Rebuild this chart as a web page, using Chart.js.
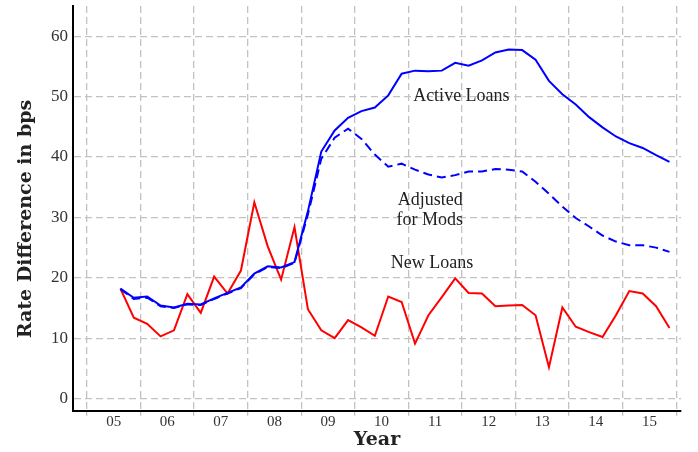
<!DOCTYPE html>
<html lang="en">
<head>
  <meta charset="UTF-8">
  <title>Rate Difference</title>
  <script src="https://cdn.jsdelivr.net/npm/chart.js"></script>
  <style>
    html, body { margin: 0; padding: 0; background: #fff; }
    #wrap { width: 698px; height: 452px; }
  </style>
</head>
<body>
  <div id="wrap"><canvas id="rateChart" width="698" height="452"></canvas></div>

  <script>
    // quarters 2005Q1 .. 2015Q2
    const quarters = [];
    for (let y = 2005; y <= 2015; y++) {
      for (let q = 1; q <= 4; q++) {
        if (y === 2015 && q > 2) break;
        quarters.push(y + "Q" + q);
      }
    }

    const activeLoans = [18.2, 16.7, 16.9, 15.4, 15.1, 15.7, 15.6, 16.6, 17.5, 18.4,
      20.7, 21.9, 21.7, 22.6, 31.0, 40.9, 44.4, 46.5, 47.6, 48.2,
      50.2, 53.8, 54.3, 54.2, 54.3, 55.6, 55.1, 56.0, 57.3, 57.8,
      57.7, 56.1, 52.6, 50.4, 48.7, 46.6, 44.9, 43.4, 42.3, 41.5,
      40.3, 39.2];

    const adjustedForMods = [18.1, 16.5, 16.7, 15.3, 15.0, 15.6, 15.5, 16.5, 17.4, 18.3,
      20.6, 21.8, 21.6, 22.5, 30.5, 39.7, 43.2, 44.7, 43.0, 40.4,
      38.4, 38.9, 37.9, 37.1, 36.6, 37.0, 37.6, 37.6, 38.0, 37.9,
      37.6, 35.9, 33.9, 31.8, 29.9, 28.5, 27.0, 26.0, 25.4, 25.4,
      25.0, 24.3];

    const newLoans = [18.2, 13.4, 12.4, 10.3, 11.3, 17.3, 14.2, 20.2, 17.4, 21.2,
      32.5, 25.2, 19.7, 28.4, 14.8, 11.3, 10.0, 13.0, 11.8, 10.4,
      16.9, 16.0, 9.1, 13.8, 16.8, 19.9, 17.5, 17.4, 15.3, 15.4,
      15.5, 13.8, 5.2, 15.1, 11.9, 11.0, 10.2, 13.8, 17.8, 17.4,
      15.3, 11.7];

    const yearLabels = [2005, 2006, 2007, 2008, 2009, 2010, 2011, 2012, 2013, 2014, 2015];
    const yTicks = [0, 10, 20, 30, 40, 50, 60];

    // text labels placed in data units [x (year), y (bps), text]
    const notes = [
      [2011.49, 49.2, "Active Loans"],
      [2010.91, 32.1, "Adjusted"],
      [2010.90, 28.8, "for Mods"],
      [2010.94, 21.7, "New Loans"]
    ];

    // quarter label -> mid-quarter year position
    function qx(label) {
      const y = parseInt(label.slice(0, 4));
      const q = parseInt(label.slice(5));
      return y + (q - 0.5) / 4;
    }
    const toPoints = arr => arr.map((v, i) => ({ x: qx(quarters[i]), y: v }));

    // grid lines sit between years, labels on the years
    const gridYears = yearLabels.map(y => y - 0.5).concat([2015.5]);
    const isGrid = v => Math.abs(v - Math.round(v)) > 0.25;

    const serif = "'Liberation Serif', 'Times New Roman', serif";
    const gridColor = "#c2c2c2";

    // no extra room for end labels, the frame is placed by layout padding
    const noPad = s => { s.paddingTop = 0; s.paddingBottom = 0; s.paddingLeft = 0; s.paddingRight = 0; };

    const textPlugin = {
      id: "texts",
      afterDraw(chart) {
        const { ctx, scales } = chart;
        ctx.save();
        ctx.fillStyle = "#222";
        ctx.textAlign = "center";
        ctx.textBaseline = "alphabetic";
        ctx.font = "18px " + serif;
        notes.forEach(n => {
          ctx.fillText(n[2], scales.x.getPixelForValue(n[0]), scales.y.getPixelForValue(n[1]));
        });

        ctx.font = "bold 19px 'DejaVu Serif', serif";
        ctx.fillText("Year", (chart.chartArea.left + chart.chartArea.right) / 2, 445);

        ctx.translate(31, 219);
        ctx.rotate(-Math.PI / 2);
        ctx.fillText("Rate Difference in bps", 0, 0);
        ctx.restore();
      }
    };

    new Chart(document.getElementById("rateChart"), {
      type: "line",
      data: {
        datasets: [
          {
            label: "Active Loans",
            data: toPoints(activeLoans),
            borderColor: "#0000ff",
            borderWidth: 2,
            pointRadius: 0,
            tension: 0,
            fill: false
          },
          {
            label: "Adjusted for Mods",
            data: toPoints(adjustedForMods),
            borderColor: "#0000ff",
            borderWidth: 2,
            borderDash: [9, 5],
            pointRadius: 0,
            tension: 0,
            fill: false
          },
          {
            label: "New Loans",
            data: toPoints(newLoans),
            borderColor: "#ff0000",
            borderWidth: 2,
            pointRadius: 0,
            tension: 0,
            fill: false
          }
        ]
      },
      options: {
        responsive: false,
        animation: false,
        layout: { padding: { top: 6, right: 17, left: 0, bottom: 0 } },
        plugins: {
          legend: { display: false },
          tooltip: { enabled: false }
        },
        scales: {
          x: {
            type: "linear",
            min: 2004.24,
            max: 2015.59,
            afterBuildTicks: s => {
              s.ticks = yearLabels.concat(gridYears).sort((a, b) => a - b).map(v => ({ value: v }));
            },
            afterFit: s => { s.height = 41.3; noPad(s); },
            grid: {
              color: c => (c.tick && isGrid(c.tick.value)) ? gridColor : "rgba(0,0,0,0)",
              tickColor: c => (c.tick && isGrid(c.tick.value)) ? gridColor : "rgba(0,0,0,0)",
              lineWidth: 1.3,
              tickLength: 5
            },
            border: { color: "#000", width: 2, dash: [7, 4] },
            ticks: {
              autoSkip: false,
              maxRotation: 0,
              padding: -3,
              color: "#333",
              font: { family: serif, size: 15 },
              callback: v => isGrid(v) ? "" : String(v % 100).padStart(2, "0")
            }
          },
          y: {
            min: -2,
            max: 65,
            afterBuildTicks: s => { s.ticks = yTicks.map(v => ({ value: v })); },
            afterFit: s => { s.width = 73; noPad(s); },
            grid: {
              color: gridColor,
              lineWidth: 1.3,
              drawTicks: false
            },
            border: { color: "#000", width: 2, dash: [7, 4] },
            ticks: {
              padding: 5,
              color: "#333",
              font: { family: serif, size: 17 }
            }
          }
        }
      },
      plugins: [textPlugin]
    });
  </script>
</body>
</html>
